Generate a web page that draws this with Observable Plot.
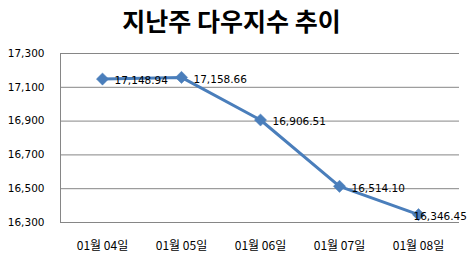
<!DOCTYPE html>
<html><head><meta charset="utf-8">
<script src="https://cdn.jsdelivr.net/npm/d3@7"></script>
<script src="https://cdn.jsdelivr.net/npm/@observablehq/plot@0.6"></script>
<style>
body{margin:0;background:#fff;}
#title{height:40px;line-height:40px;text-align:center;font-family:"Noto Sans CJK KR",sans-serif;font-weight:bold;font-size:25px;color:#000;padding-right:8px;}
</style>
</head><body>
<div id="title">지난주 다우지수 추이</div>
<div id="chart"></div>
<script>
const dates = ["01월 04일","01월 05일","01월 06일","01월 07일","01월 08일"];
const values = [17148.94, 17158.66, 16906.51, 16514.10, 16346.45];
const yTicks = [16300, 16500, 16700, 16900, 17100, 17300];

const data = dates.map((d, i) => ({date: d, value: values[i], i}));
const fmt = d3.format(",.2f");
const last = data.length - 1;

const chart = Plot.plot({
  width: 471,
  height: 222,
  marginTop: 13,
  marginBottom: 40,
  marginLeft: 60,
  marginRight: 12,
  style: {fontFamily: "DejaVu Sans, sans-serif", fontSize: "10.5px", color: "#000", background: "#fff"},
  x: {type: "point", domain: dates, padding: 0.5, label: null},
  y: {domain: [16300, 17300], label: null},
  marks: [
    Plot.gridY(yTicks, {stroke: "#868686", strokeOpacity: 1, strokeWidth: 1}),
    Plot.axisY(yTicks, {tickSize: 0, tickPadding: 16, tickFormat: d3.format(","), fontSize: 10.5, fontFamily: "DejaVu Sans"}),
    Plot.axisX({tickSize: 0, tickPadding: 19, fontSize: 12, fontFamily: "Noto Sans CJK KR"}),
    Plot.lineY(data, {x: "date", y: "value", stroke: "#4A7EBB", strokeWidth: 3}),
    Plot.dot(data, {x: "date", y: "value", symbol: "diamond2", r: 5.5, fill: "#4A7EBB", stroke: "#4A7EBB", strokeWidth: 0.5}),
    Plot.text(data.filter(d => d.i !== last), {x: "date", y: "value", text: d => fmt(d.value), textAnchor: "start", dx: 12, dy: 2, fontSize: 10.5, fontFamily: "DejaVu Sans", fill: "#000"}),
    Plot.text(data.filter(d => d.i === last), {x: "date", y: "value", text: d => fmt(d.value), textAnchor: "start", dx: -5, dy: 2, fontSize: 10.5, fontFamily: "DejaVu Sans", fill: "#000"})
  ]
});
document.getElementById("chart").appendChild(chart);
const svg = d3.select(chart);
const yS = chart.scale("y");
svg.append("line").attr("x1", 60.5).attr("x2", 60.5).attr("y1", yS.apply(17300)).attr("y2", yS.apply(16300)).attr("stroke", "#868686");
</script>
</body></html>
